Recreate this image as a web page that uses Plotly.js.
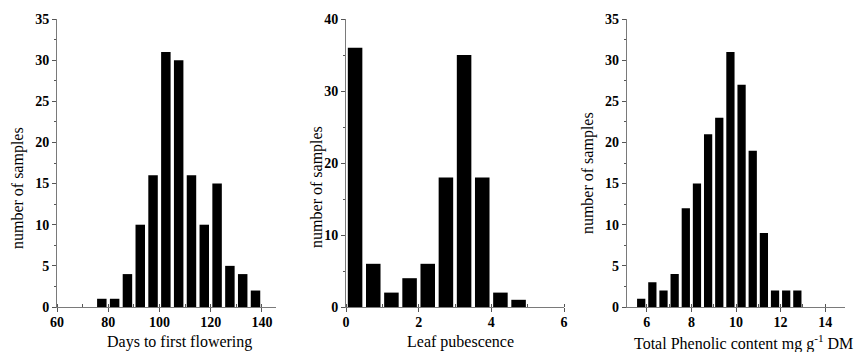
<!DOCTYPE html>
<html><head><meta charset="utf-8">
<script src="https://cdn.plot.ly/plotly-3.0.1.min.js"></script>
<style>body{margin:0;background:#fff}#c{width:857px;height:352px}</style>
</head><body><div id="c"></div>
<script>
// Panel 1: Days to first flowering (bin centres, counts)
const daysBins = [77.5, 82.5, 87.5, 92.5, 97.5, 102.5, 107.5, 112.5, 117.5, 122.5, 127.5, 132.5, 137.5];
const daysCounts = [1, 1, 4, 10, 16, 31, 30, 16, 10, 15, 5, 4, 2];
// Panel 2: Leaf pubescence
const leafBins = [0.25, 0.75, 1.25, 1.75, 2.25, 2.75, 3.25, 3.75, 4.25, 4.75];
const leafCounts = [36, 6, 2, 4, 6, 18, 35, 18, 2, 1];
// Panel 3: Total phenolic content
const phenBins = [5.75, 6.25, 6.75, 7.25, 7.75, 8.25, 8.75, 9.25, 9.75, 10.25, 10.75, 11.25, 11.75, 12.25, 12.75];
const phenCounts = [1, 3, 2, 4, 12, 15, 21, 23, 31, 27, 19, 9, 2, 2, 2];

const xTitles = ['Days to first flowering', 'Leaf pubescence', 'Total Phenolic content mg g<sup>-1</sup> DM'];
const yTitle = 'number of samples';

const FONT = '"Liberation Serif", "Times New Roman", serif';
const tickFont = {family: FONT, size: 14, color: '#000', weight: 'bold'};

function bar(x, y, w, xa, ya) {
  return {type: 'bar', x: x, y: y, width: w, xaxis: xa, yaxis: ya,
    marker: {color: '#000', line: {width: 0}}, hoverinfo: 'skip'};
}
const data = [
  bar(daysBins, daysCounts, 3.7, 'x', 'y'),
  bar(leafBins, leafCounts, 0.4, 'x2', 'y2'),
  bar(phenBins, phenCounts, 0.37, 'x3', 'y3')
];

function xax(dom, range, dtick, mdt, anchor) {
  return {domain: dom, range: range, anchor: anchor, tick0: 0, dtick: dtick,
    showgrid: false, zeroline: false, showline: true, linecolor: '#7a7a7a', linewidth: 1,
    ticks: 'outside', ticklen: 4, tickcolor: '#555', tickwidth: 1, tickfont: tickFont,
    ticklabelstandoff: -2,
    minor: {dtick: mdt, tick0: 0, ticks: 'inside', ticklen: 3, tickcolor: '#555', showgrid: false},
    fixedrange: true};
}
function yax(dom, range, dtick, mdt, anchor) {
  return {domain: dom, range: range, anchor: anchor, tick0: 0, dtick: dtick,
    showgrid: false, zeroline: false, showline: true, linecolor: '#7a7a7a', linewidth: 1,
    ticks: 'outside', ticklen: 4, tickcolor: '#555', tickwidth: 1, tickfont: tickFont,
    minor: {dtick: mdt, tick0: 0, ticks: 'outside', ticklen: 2, tickcolor: '#555', showgrid: false},
    fixedrange: true};
}

const W = 857;
function ann(text, x, y, angle) {
  return {text: text, xref: 'paper', yref: 'paper', x: x, y: y, showarrow: false,
    xanchor: 'center', yanchor: 'middle', textangle: angle || 0,
    font: {family: FONT, size: 16, color: '#000'}};
}

const layout = {
  width: 857, height: 352, margin: {l: 0, r: 0, t: 19, b: 45},
  paper_bgcolor: '#fff', plot_bgcolor: '#fff', showlegend: false,
  font: {family: FONT, color: '#000'},
  xaxis: xax([57 / W, 276 / W], [60, 145.5], 20, 10, 'y'),
  yaxis: yax([0, 1], [0, 35], 5, 2.5, 'x'),
  xaxis2: xax([346 / W, 564 / W], [0, 6], 2, 1, 'y2'),
  yaxis2: yax([0, 1], [0, 40], 10, 5, 'x2'),
  xaxis3: xax([626.7 / W, 845.3 / W], [5.1, 14.9], 2, 1, 'y3'),
  yaxis3: yax([0, 1], [0, 35], 5, 2.5, 'x3'),
  annotations: [
    ann(xTitles[0], 179 / W, -0.122),
    ann(xTitles[1], 460 / W, -0.122),
    ann(xTitles[2], 743 / W, -0.122),
    ann(yTitle, 18 / W, 0.413, -90),
    ann(yTitle, 317 / W, 0.417, -90),
    ann(yTitle, 588 / W, 0.465, -90)
  ]
};

Plotly.newPlot('c', data, layout, {displayModeBar: false, staticPlot: true});
</script></body></html>
